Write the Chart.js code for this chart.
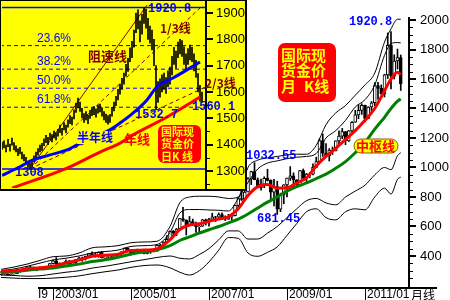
<!DOCTYPE html>
<html><head><meta charset="utf-8">
<script src="https://cdn.jsdelivr.net/npm/chart.js@4.4.0/dist/chart.umd.min.js"></script>
<style>
html,body{margin:0;padding:0;background:#fff;}
#wrap{position:relative;width:450px;height:300px;overflow:hidden;background:#fff;}
#main{position:absolute;left:0;top:0;}
#inset{position:absolute;left:0;top:0;}
</style></head><body>
<div id="wrap">
<canvas id="main" width="450" height="300"></canvas>
<canvas id="inset" width="247" height="191"></canvas>
</div>
<script>
// ===== Monthly K-line data, first month 2001/09, last 2011/12 =====
const opens = [273,293,279,274,
278,282,297,302,309,326,318,304,312,324,317,318,
348,368,348,335,336,364,346,354,375,388,384,398,
416,402,396,427,388,393,395,391,408,415,428,453,
438,422,435,428,435,418,435,429,433,473,470,495,
513,568,556,582,654,643,613,633,623,599,603,646,
632,650,665,663,680,659,650,666,673,743,789,783,
834,923,972,916,864,886,926,913,833,871,718,815,
882,928,943,917,883,979,927,955,954,1001,1040,1182,
1097,1081,1118,1113,1180,1213,1244,1181,1248,1307,1357,1387,
1421,1333,1410,1439,1556,1536,1500,1628,1828,1620,1722,1746];
const highs = [293,293,279,280,
289,303,305,311,328,330,326,316,326,325,323,349,
373,389,354,340,374,371,366,377,392,393,400,417,
428,420,427,432,395,398,409,412,416,429,455,456,
440,439,447,438,436,443,437,448,473,480,497,538,
570,573,587,655,730,646,668,650,630,610,649,650,
655,690,669,692,693,672,683,675,745,796,846,839,
931,975,1032.55,929,921,937,988,916,919,907,826,884,
929,1006,964,917,981,990,960,965,1025,1070,1195,1227,
1162,1128,1139,1181,1249,1265,1244,1251,1311,1388,1424,1432,
1424,1412,1447,1575,1577,1560,1632,1912,1920.8,1764,1803,1763];
const lows = [271,275,270,271,
277,280,290,300,307,315,302,300,310,309,313,316,
346,342,324,321,335,342,341,350,370,364,372,398,
398,392,391,387,371,384,385,386,398,410,424,431,
416,410,423,421,414,414,418,427,433,458,456,490,
513,540,538,582,635,542,610,612,560,560,600,610,
603,645,634,661,650,640,648,642,672,723,776,780,
834,884,918,862,847,863,908,786,740,681.45,700,754,
801,912,865,865,880,910,905,930,950,1001,1034,1075,
1072,1044,1088,1112,1159,1195,1155,1176,1242,1306,1330,1360,
1309,1330,1381,1418,1462,1496,1478,1603,1532,1600,1667,1522];
const closes = [293,279,274,278,
282,297,302,309,326,318,304,312,324,317,318,348,
368,348,335,336,364,346,354,375,388,384,398,416,
402,396,427,388,393,395,391,408,415,428,453,438,
422,435,428,435,418,435,429,433,473,470,495,513,
568,556,582,654,643,613,633,623,599,603,646,632,
650,665,663,680,659,650,666,673,743,789,783,834,
923,972,916,864,886,926,913,833,871,718,815,882,
928,943,917,883,979,927,955,954,1001,1040,1182,1097,
1081,1118,1113,1180,1213,1244,1181,1248,1307,1357,1387,1421,
1333,1410,1439,1556,1536,1500,1628,1828,1620,1722,1746,1566];

// ===== Indicator lines (month index from 2001/09) =====
const lineMonths = [0,4,8,12,16,20,24,28,32,36,40,44,48,52,55,58,61,64,67,70,73,76,79,82,85,88,91,94,97,100,103,106,109,112,115,118,120,122,123];
const upperOuter = [309,325,345,370,395,400,420,455,462,470,490,495,500,600,760,800,805,805,800,790,800,1000,1050,1065,1075,1085,1090,1090,1150,1290,1370,1420,1490,1560,1640,1850,1940,2005,2005];
const upperInner = [300,312,330,352,373,385,400,420,430,440,465,470,478,560,690,715,715,712,710,705,790,900,990,1030,1045,1060,1070,1075,1095,1200,1250,1320,1410,1460,1560,1760,1840,1847,1845];
const redLine    = [298,300,312,320,330,355,372,398,405,412,438,440,448,510,580,610,618,635,650,665,720,810,870,885,860,862,895,930,1010,1075,1130,1190,1250,1320,1400,1520,1600,1645,1630];
const centerLine = [286,294,304,312,318,332,345,362,375,392,412,428,442,470,505,530,555,578,600,625,650,685,725,765,800,840,870,895,925,955,995,1040,1100,1170,1260,1340,1400,1450,1465];
const lowerInner = [271,268,263,266,278,290,300,318,330,345,361,375,390,400,385,380,410,450,510,570,570,515,515,555,600,660,720,775,790,760,747,800,840,880,950,1000,985,1080,1100];
const lowerOuter = [255,250,247,247,250,256,265,280,293,305,323,335,339,320,290,271,300,360,440,525,520,420,398,425,462,540,620,700,720,660,645,700,720,713,800,860,820,920,935];

// ===== Main axis ticks =====
const xTickMonths = [16,40,64,88,112];
const xTickLabels = ['2003/01','2005/01','2007/01','2009/01','2011/01'];
const yTickValues = [400,600,800,1000,1200,1400,1600,1800,2000];

// ===== Inset: daily K-line (2011), high / low =====
const insetHigh = [1410,1415,1398,1420,1402,1425,1408,1396,1384,1390,1372,1362,1352,1338,1330,1342,1358,1372,1385,1398,
1405,1422,1435,1428,1444,1438,1452,1445,1458,1474,1462,1484,1474,1494,1510,1505,1532,1558,1577,1562,
1538,1518,1526,1512,1530,1540,1545,1536,1550,1554,1540,1526,1516,1510,1515,1542,1562,1584,1610,1630,
1652,1672,1705,1728,1768,1792,1835,1900,1912,1870,1895,1920.8,1915,1880,1850,1835,1800,1700,1640,1650,
1665,1672,1655,1680,1695,1735,1770,1755,1790,1800,1795,1772,1745,1765,1778,1770,1745,1720,1670,1625,1600];
const insetLow = [1382,1388,1372,1392,1375,1398,1380,1372,1358,1365,1346,1338,1326,1314,1308,1318,1334,1348,1360,1372,
1378,1396,1408,1400,1418,1410,1426,1418,1432,1446,1436,1456,1446,1466,1480,1475,1498,1522,1540,1526,
1502,1484,1494,1480,1500,1510,1514,1504,1520,1524,1508,1494,1484,1478,1484,1508,1528,1548,1570,1592,
1610,1630,1660,1678,1715,1730,1770,1825,1840,1790,1820,1860,1842,1800,1785,1760,1700,1532.7,1560,1580,
1600,1610,1595,1620,1630,1665,1705,1690,1730,1745,1735,1705,1685,1705,1722,1715,1680,1655,1600,1565,1560.1];
const halfYearIdx = [0,9,15.5,24,32.5,38,46,54,59,65.5,72.5,77.5,85.5,92.5,99];
const halfYearVal = [1283,1316,1342,1361,1380,1401,1428,1456,1482,1520,1570,1620,1653,1684,1714];
const yearIdx = [5,32.5,49,59,65.5,82.5,99];
const yearVal = [1235,1311,1372,1406,1437,1505,1581];
const swingLow = 1308, swingHigh = 1920.8;
const fibLevels = [1776.2,1686.7,1614.4,1542.1];
const fibLabels = ['23.6%','38.2%','50.0%','61.8%'];
const speedIdx = [14,72.5], speedVal = [1308,1930];
const line23Idx = [14,100.5], line23Val = [1308,1930];
const line13Idx = [14,101.5], line13Val = [1308,1618];
const insetTicks = [1300,1400,1500,1600,1700,1800,1900];

// ===== helpers =====
const CJK = '"Noto Sans CJK SC", sans-serif';
const MONO = '"Liberation Mono", monospace';
const SANS = '"Liberation Sans", Arial, sans-serif';
function pts(xs, ys){ return xs.map((x,i)=>({x:x, y:ys[i]})); }
function text(ctx, s, x, y, font, color, align, base){
  ctx.save(); ctx.font = font; ctx.fillStyle = color;
  ctx.textAlign = align || 'left'; ctx.textBaseline = base || 'middle';
  ctx.fillText(s, x, y); ctx.restore();
}
function rrect(ctx, x, y, w, h, r, fill, stroke){
  ctx.save(); ctx.beginPath();
  ctx.moveTo(x+r,y); ctx.arcTo(x+w,y,x+w,y+h,r); ctx.arcTo(x+w,y+h,x,y+h,r);
  ctx.arcTo(x,y+h,x,y,r); ctx.arcTo(x,y,x+w,y,r); ctx.closePath();
  ctx.fillStyle = fill; ctx.fill();
  if (stroke){ ctx.strokeStyle = stroke; ctx.lineWidth = 1; ctx.stroke(); }
  ctx.restore();
}
function thin(data, color, width, order, dash){
  return {type:'line', data:data, borderColor:color, borderWidth:width, pointRadius:0,
    tension:0.35, cubicInterpolationMode:'monotone', order:order, borderDash:dash||[]};
}
Chart.defaults.animation = false;

// ===== main chart =====
const monthIdx = closes.map((c,i)=>i);
const mainDecor = {
  id:'mainDecor',
  afterDraw(chart){
    const ctx = chart.ctx, ys = chart.scales.y, xs = chart.scales.x, a = chart.chartArea;
    ctx.save();
    ctx.fillStyle = '#000';
    ctx.fillRect(a.right, 17, 2, a.bottom - 17 + 1);
    for (let v = 250; v <= 2000; v += 50){
      const y = Math.round(ys.getPixelForValue(v));
      if (v % 200 === 0) ctx.fillRect(a.right+2, y-1, 6, 2);
      else ctx.fillRect(a.right+2, y, 3, 1);
    }
    yTickValues.forEach(v=>{
      text(ctx, String(v), a.right+12, ys.getPixelForValue(v), '13px '+SANS, '#000');
    });
    ctx.fillRect(38, a.bottom, 437-38, 2);
    xTickMonths.forEach((m,i)=>{
      const x = Math.round(xs.getPixelForValue(m));
      ctx.fillRect(x, a.bottom, 1, 13);
      text(ctx, xTickLabels[i], x+2, a.bottom+8, '12px '+SANS, '#000');
    });
    text(ctx, 'I9', 38, a.bottom+8, '12px '+SANS, '#000');
    text(ctx, '月线', a.right+3, a.bottom+8, '12px '+CJK, '#000');
    rrect(ctx, 278, 43, 58, 59, 7, '#ff0000');
    text(ctx, '国际现', 281, 55, 'bold 15px '+CJK, '#ffff00');
    text(ctx, '货金价', 281, 70, 'bold 15px '+CJK, '#ffff00');
    text(ctx, '月', 281, 86, 'bold 15px '+CJK, '#ffff00');
    text(ctx, 'K线', 304, 86, 'bold 15px '+CJK, '#ffff00');
    text(ctx, '1920.8', 349, 22, 'bold 12px '+MONO, '#0000ff');
    text(ctx, '1032.55', 246, 156, 'bold 12px '+MONO, '#0000ff');
    text(ctx, '681.45', 257, 219, 'bold 12px '+MONO, '#0000ff');
    rrect(ctx, 354, 139, 44, 14, 7, '#ffff00', '#806000');
    text(ctx, '中枢线', 356, 146.5, 'bold 13px '+CJK, '#ff0000');
    ctx.restore();
  }
};
new Chart(document.getElementById('main'), {
  type:'bar',
  data:{datasets:[
    thin(pts(lineMonths, upperOuter), '#000', 1, 5),
    thin(pts(lineMonths, upperInner), '#000', 1, 5),
    thin(pts(lineMonths, lowerInner), '#000', 1, 5),
    thin(pts(lineMonths, lowerOuter), '#000', 1, 5),
    thin(pts(lineMonths, centerLine), '#008000', 3, 2),
    thin(pts(lineMonths, redLine), '#ff0000', 3, 1),
    {type:'bar', data: monthIdx.map(i=>({x:i, y:[lows[i], highs[i]]})), backgroundColor:'#000',
      barThickness:1, grouped:false, order:8},
    {type:'bar', data: monthIdx.map(i=>({x:i, y:[opens[i], closes[i]]})),
      backgroundColor: c => (closes[c.dataIndex] >= opens[c.dataIndex] ? '#ffffff' : '#000000'),
      borderColor:'#000', borderWidth:1, borderSkipped:false, barThickness:3, grouped:false, order:7}
  ]},
  options:{
    responsive:false, animation:false, devicePixelRatio:1,
    layout:{padding:{left:0, top:0, right:42, bottom:13}},
    plugins:{legend:{display:false}, tooltip:{enabled:false}},
    scales:{
      x:{type:'linear', min:-0.3077, max:125.23, offset:false, display:false},
      y:{type:'linear', min:189.8, max:2135.6, display:false}
    }
  },
  plugins:[mainDecor]
});

// ===== inset chart =====
const dayIdx = insetHigh.map((h,i)=>i);
const insetDecor = {
  id:'insetDecor',
  beforeDraw(chart){
    const ctx = chart.ctx; ctx.save(); ctx.fillStyle = '#ffff00';
    ctx.fillRect(0,0,chart.width,chart.height); ctx.restore();
  },
  afterDraw(chart){
    const ctx = chart.ctx, ys = chart.scales.y, a = chart.chartArea;
    ctx.save(); ctx.fillStyle = '#000';
    ctx.fillRect(0,0,247,1); ctx.fillRect(0,0,1,191);
    ctx.fillRect(245,0,2,191); ctx.fillRect(0,189,247,2);
    ctx.fillRect(a.right-1, 0, 2, 189);
    for (let v = 1250; v <= 1950; v += 50){
      const y = Math.round(ys.getPixelForValue(v));
      if (y < 1 || y > 188) continue;
      if (v % 100 === 0) ctx.fillRect(a.right+1, y-1, 6, 2);
      else ctx.fillRect(a.right+1, y, 3, 1);
    }
    insetTicks.forEach(v=>{
      text(ctx, String(v), a.right+10, ys.getPixelForValue(v), '13px '+SANS, '#000');
    });
    fibLevels.forEach((lv,i)=>{
      text(ctx, fibLabels[i], 37, ys.getPixelForValue(lv)-4, '12px '+SANS, '#0000ff', 'left', 'alphabetic');
    });
    text(ctx, '1920.8', 148, 9, 'bold 12px '+MONO, '#0000ff');
    text(ctx, '1/3线', 160, 28, 'bold 12px '+CJK, '#800000');
    text(ctx, '阻速线', 88, 56, 'bold 13px '+CJK, '#800000');
    text(ctx, '2/3线', 205, 83, 'bold 12px '+CJK, '#800000');
    text(ctx, '1560.1', 192, 107, 'bold 12px '+MONO, '#0000ff');
    text(ctx, '1532.7', 135, 115, 'bold 12px '+MONO, '#0000ff');
    ctx.fillStyle = '#ffff00'; ctx.fillRect(77,131,37,13);
    text(ctx, '半年线', 77, 137.5, 'bold 12px '+CJK, '#0000ff');
    text(ctx, '年线', 124, 139, 'bold 13px '+CJK, '#ff0000');
    text(ctx, '1308', 15, 173, 'bold 12px '+MONO, '#0000ff');
    rrect(ctx, 158, 125, 43, 38, 6, '#ff0000');
    text(ctx, '国际现', 161, 132, 'bold 11px '+CJK, '#ffff00');
    text(ctx, '货金价', 161, 144, 'bold 11px '+CJK, '#ffff00');
    text(ctx, '日K 线', 161, 156.5, 'bold 11px '+CJK, '#ffff00');
    ctx.restore();
  }
};
const hline = (v, color, w, dash, order) => ({type:'line', data:[{x:-1,y:v},{x:103,y:v}],
  borderColor:color, borderWidth:w, borderDash:dash, pointRadius:0, order:order});
const insetSets = fibLevels.map(lv => hline(lv, '#0000ff', 1, [4,3], 9));
insetSets.push(hline(swingLow, '#0000ff', 1.5, [], 8));
insetSets.push(hline(swingHigh, '#0000ff', 1.5, [], 8));
insetSets.push({type:'line', data:pts(speedIdx, speedVal), borderColor:'#800000', borderWidth:1, pointRadius:0, order:7});
insetSets.push({type:'line', data:pts(line23Idx, line23Val), borderColor:'#800000', borderWidth:1, borderDash:[4,3], pointRadius:0, order:7});
insetSets.push({type:'line', data:pts(line13Idx, line13Val), borderColor:'#800000', borderWidth:1, borderDash:[4,3], pointRadius:0, order:7});
insetSets.push({type:'bar', data: dayIdx.map(i=>({x:i, y:[insetLow[i], insetHigh[i]]})), backgroundColor:'#000',
  barThickness:1, grouped:false, order:5});
insetSets.push(thin(pts(halfYearIdx, halfYearVal), '#0000ff', 3, 2));
insetSets.push(thin(pts(yearIdx, yearVal), '#ff0000', 3, 1));
new Chart(document.getElementById('inset'), {
  type:'bar',
  data:{datasets: insetSets},
  options:{
    responsive:false, animation:false, devicePixelRatio:1,
    layout:{padding:{left:2, top:0, right:41, bottom:3}},
    plugins:{legend:{display:false}, tooltip:{enabled:false}},
    scales:{
      x:{type:'linear', min:0, max:102, offset:false, display:false},
      y:{type:'linear', min:1235.4, max:1949.4, display:false}
    }
  },
  plugins:[insetDecor]
});
</script>
</body></html>
